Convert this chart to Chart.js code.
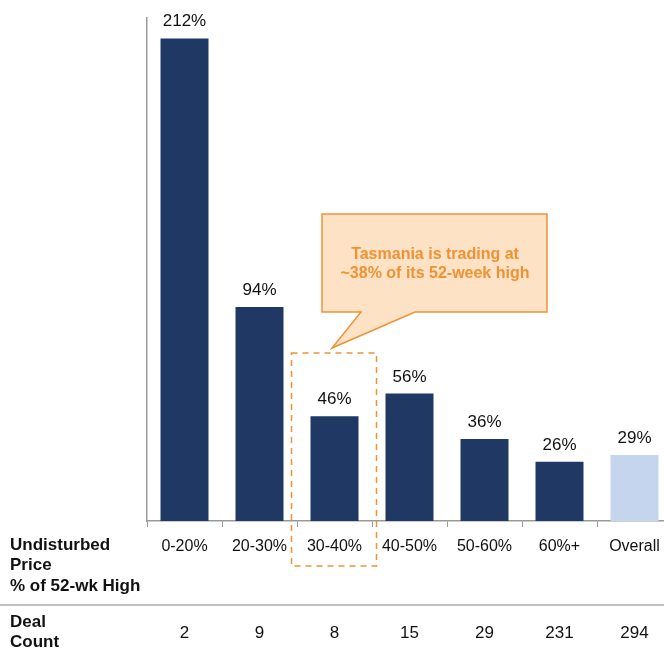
<!DOCTYPE html>
<html>
<head>
<meta charset="utf-8">
<script src="https://cdn.jsdelivr.net/npm/chart.js@4"></script>
<style>
  html, body { margin: 0; padding: 0; background: #fff; overflow: hidden; }
  #wrap { width: 672px; height: 648px; }
</style>
</head>
<body>
<div id="wrap"><canvas id="chart" width="672" height="648"></canvas></div>
<script>
// chart data
const categories = ['0-20%', '20-30%', '30-40%', '40-50%', '50-60%', '60%+', 'Overall'];
const premiums = [212, 94, 46, 56, 36, 26, 29];
const dealCounts = [2, 9, 8, 15, 29, 231, 294];
const barColors = ['#1f3864', '#1f3864', '#1f3864', '#1f3864', '#1f3864', '#1f3864', '#c5d5ee'];
const rowLabelTop = ['Undisturbed', 'Price', '% of 52-wk High'];
const rowLabelBottom = ['Deal', 'Count'];
const calloutLines = ['Tasmania is trading at', '~38% of its 52-week high'];
const highlightIndex = 2;

const FONT = '"Liberation Sans", Arial, Helvetica, sans-serif';
const ORANGE = '#ef9234';
const INK = '#111';

// value labels, row labels, deal counts, callout
const extras = {
    id: 'extras',
    afterDatasetsDraw(chart) {
        const ctx = chart.ctx;
        const x = chart.scales.x;
        ctx.save();

        // percentage labels above bars
        ctx.fillStyle = INK;
        ctx.font = '17px ' + FONT;
        ctx.textAlign = 'center';
        ctx.textBaseline = 'alphabetic';
        chart.getDatasetMeta(0).data.forEach((bar, i) => {
            ctx.fillText(premiums[i] + '%', bar.x, bar.y - 12);
        });

        // left row labels
        ctx.font = 'bold 17px ' + FONT;
        ctx.textAlign = 'left';
        ctx.textBaseline = 'middle';
        rowLabelTop.forEach((t, i) => ctx.fillText(t, 10, 545 + i * 20.5));
        rowLabelBottom.forEach((t, i) => ctx.fillText(t, 10, 622 + i * 20));

        // separator
        ctx.strokeStyle = '#aaa';
        ctx.lineWidth = 1.5;
        ctx.beginPath();
        ctx.moveTo(0, 605);
        ctx.lineTo(chart.width, 605);
        ctx.stroke();

        // deal counts
        ctx.font = '17px ' + FONT;
        ctx.textAlign = 'center';
        dealCounts.forEach((c, i) => ctx.fillText(String(c), x.getPixelForValue(i), 633));

        // dashed highlight box
        const cx = x.getPixelForValue(highlightIndex);
        ctx.strokeStyle = ORANGE;
        ctx.lineWidth = 1.5;
        ctx.setLineDash([6, 5]);
        ctx.strokeRect(cx - 43, 353, 85, 213);
        ctx.setLineDash([]);

        // callout bubble
        const bx0 = 322, by0 = 214, bx1 = 547, by1 = 312;
        ctx.beginPath();
        ctx.moveTo(bx0, by0);
        ctx.lineTo(bx1, by0);
        ctx.lineTo(bx1, by1);
        ctx.lineTo(415, by1);
        ctx.lineTo(332, 348);
        ctx.lineTo(361, by1);
        ctx.lineTo(bx0, by1);
        ctx.closePath();
        ctx.fillStyle = '#fde2c6';
        ctx.fill();
        ctx.lineWidth = 1.5;
        ctx.strokeStyle = ORANGE;
        ctx.stroke();

        ctx.fillStyle = ORANGE;
        ctx.font = 'bold 16px ' + FONT;
        ctx.textAlign = 'center';
        calloutLines.forEach((t, i) => ctx.fillText(t, 435, 255 + i * 19));

        ctx.restore();
    }
};

new Chart(document.getElementById('chart').getContext('2d'), {
    type: 'bar',
    data: {
        labels: categories,
        datasets: [{
            data: premiums,
            backgroundColor: barColors,
            categoryPercentage: 1,
            barPercentage: 0.64
        }]
    },
    options: {
        responsive: false,
        animation: false,
        layout: { padding: { left: 147, top: 18, right: 0, bottom: 0 } },
        scales: {
            x: {
                grid: { display: true, drawOnChartArea: false, offset: true, tickLength: 6, color: '#999' },
                border: { display: true, color: '#999', width: 1.5 },
                ticks: { color: INK, font: { size: 16, family: FONT }, padding: 10, maxRotation: 0 },
                afterFit: (s) => { s.height = 127; }
            },
            y: {
                min: 0,
                max: 221,
                grid: { display: false },
                border: { display: true, color: '#999', width: 1.5 },
                ticks: { display: false },
                afterFit: (s) => { s.width = 0; }
            }
        },
        plugins: {
            legend: { display: false },
            tooltip: { enabled: false }
        }
    },
    plugins: [extras]
});
</script>
</body>
</html>
